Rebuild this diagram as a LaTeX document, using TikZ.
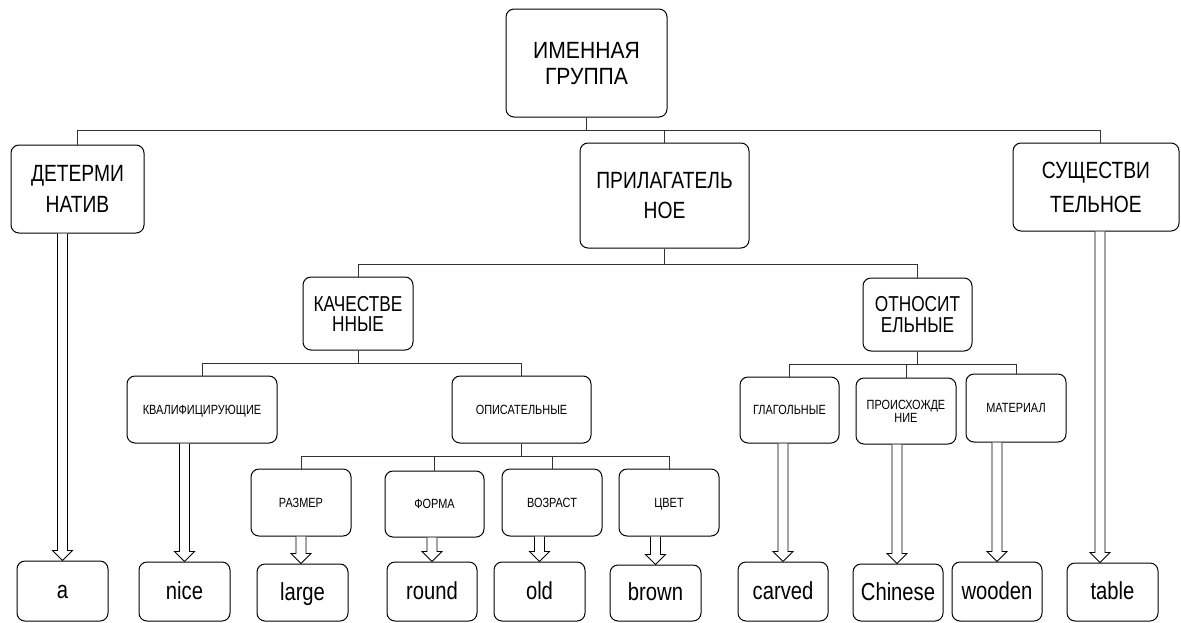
\documentclass[tikz,border=0pt]{standalone}
\usepackage{fontspec}
\setmainfont{Liberation Sans}
\newfontfamily\narf[FakeStretch=0.82]{Liberation Sans}
\newfontfamily\narg[FakeStretch=0.9]{Liberation Sans}
\newfontfamily\narh[FakeStretch=0.8]{Liberation Sans}
\usetikzlibrary{calc}
\tikzset{
  box/.style={draw=black, line width=0.75pt, rounded corners=6pt, inner sep=0pt, align=center, fill=white},
  fTop/.style={font={\narg\fontsize{17.6pt}{19.5pt}\selectfont}, text height={12.6pt+19.5pt}, text depth=0pt},
  fA/.style={font={\narf\fontsize{17.6pt}{#1}\selectfont}, text height={12.6pt+#1}, text depth=0pt},
  fB/.style={font={\narh\fontsize{16.2pt}{#1}\selectfont}, text height={11.6pt+#1}, text depth=0pt},
  fC/.style={font={\narf\fontsize{10pt}{12pt}\selectfont}, text height=7.2pt, text depth=0pt},
  fCC/.style={font={\narf\fontsize{10pt}{9.75pt}\selectfont}, text height={7.2pt+9.75pt}, text depth=0pt},
  fW/.style={font={\narf\fontsize{18.5pt}{22pt}\selectfont}, text height=13.3pt, text depth=1.8pt},
  conn/.style={draw=black!80, line width=0.75pt},
  hollow/.style={draw=black, line width=0.7pt, fill=white, line join=miter},
}
\newcommand\mkbox[7]{\node[box,#6,minimum width={(#4-#2)*0.75pt},minimum height={(#5-#3)*0.75pt}] (#1) at ({(#2+#4)/2},{(#3+#5)/2}) {#7};}
\newcommand\harrow[3]{\draw[hollow] ($(#1.south -| #2.north)+({#3-5},0)$) -- ($(#2.north)+({#3-5},-10)$) -- ($(#2.north)+({#3-10},-10)$) -- ($(#2.north)+({#3},0)$) -- ($(#2.north)+({#3+10},-10)$) -- ($(#2.north)+({#3+5},-10)$) -- ($(#1.south -| #2.north)+({#3+5},0)$);}
\begin{document}
\begin{tikzpicture}[x=0.75pt,y=-0.75pt]
\fill[white] (0,0) rectangle (1181,622);
\useasboundingbox (0,0) rectangle (1181,622);
% level 1
\mkbox{top}{506}{9}{667}{117}{fTop}{ИМЕННАЯ\\ГРУППА}
\mkbox{det}{11}{145}{144}{233}{fA=23.25pt}{ДЕТЕРМИ\\НАТИВ}
\mkbox{pril}{580}{143}{749}{248}{fA=22.5pt}{ПРИЛАГАТЕЛЬ\\НОЕ}
\mkbox{sush}{1013}{143}{1179}{231}{fA=25.5pt}{СУЩЕСТВИ\\ТЕЛЬНОЕ}
% level 2
\mkbox{kach}{303}{277}{413}{350}{fB=15pt}{КАЧЕСТВЕ\\ННЫЕ}
\mkbox{otn}{863}{278}{972}{351}{fB=15.75pt}{ОТНОСИТ\\ЕЛЬНЫЕ}
% level 3
\mkbox{kval}{127}{376}{277}{443}{fC}{КВАЛИФИЦИРУЮЩИЕ}
\mkbox{opis}{452}{376}{591}{443}{fC}{ОПИСАТЕЛЬНЫЕ}
\mkbox{glag}{740}{377}{839}{443}{fC}{ГЛАГОЛЬНЫЕ}
\mkbox{proish}{856}{378}{956}{444}{fCC}{ПРОИСХОЖДЕ\\НИЕ}
\mkbox{mat}{966}{374}{1066}{442}{fC}{МАТЕРИАЛ}
% level 4
\mkbox{razm}{251}{469}{351}{536}{fC}{РАЗМЕР}
\mkbox{form}{385}{471}{484}{537}{fC}{ФОРМА}
\mkbox{vozr}{502}{469}{602}{536}{fC}{ВОЗРАСТ}
\mkbox{cvet}{619}{469}{719}{536}{fC}{ЦВЕТ}
% words
\mkbox{a}{17}{561}{108}{621}{fW}{a}
\mkbox{nice}{139}{562}{230}{621}{fW}{nice}
\mkbox{large}{257}{564}{348}{621}{fW}{large}
\mkbox{round}{387}{562}{477}{621}{fW}{round}
\mkbox{old}{494}{562}{585}{621}{fW}{old}
\mkbox{brown}{610}{565}{701}{621}{fW}{brown}
\mkbox{carved}{738}{562}{828}{621}{fW}{carved}
\mkbox{chinese}{853}{564}{943}{621}{fW}{Chinese}
\mkbox{wooden}{952}{562}{1042}{621}{fW}{wooden}
\mkbox{table}{1067}{563}{1158}{621}{fW}{table}
% tree connectors
\coordinate (j1) at (586.5,130);
\draw[conn] (top.south) -- (j1);
\draw[conn] (j1) -| (det.north);
\draw[conn] (j1) -| (pril.north);
\draw[conn] (j1) -| ($(sush.north)+(4,0)$);
\coordinate (j2) at (664.5,264);
\draw[conn] (pril.south) -- (j2);
\draw[conn] (j2) -| (kach.north);
\draw[conn] (j2) -| (otn.north);
\coordinate (j3) at (358,363);
\draw[conn] (kach.south) -- (j3);
\draw[conn] (j3) -| (kval.north);
\draw[conn] (j3) -| (opis.north);
\coordinate (j4) at (917.5,364);
\draw[conn] (otn.south) -- (j4);
\draw[conn] (j4) -| (glag.north);
\draw[conn] (j4) -| (mat.north);
\draw[conn] (proish.north) |- (j4);
\coordinate (j5) at (521.5,456);
\draw[conn] (opis.south) -- (j5);
\draw[conn] (j5) -| (razm.north);
\draw[conn] (j5) -| (form.north);
\draw[conn] (j5) -| (vozr.north);
\draw[conn] (j5) -| (cvet.north);
% hollow arrows
\harrow{det}{a}{0}
\harrow{kval}{nice}{0}
\harrow{razm}{large}{-1.5}
\harrow{form}{round}{0}
\harrow{vozr}{old}{0}
\harrow{cvet}{brown}{0}
\harrow{glag}{carved}{0}
\harrow{proish}{chinese}{-1}
\harrow{mat}{wooden}{0}
\harrow{sush}{table}{-12.5}
\end{tikzpicture}
\end{document}
